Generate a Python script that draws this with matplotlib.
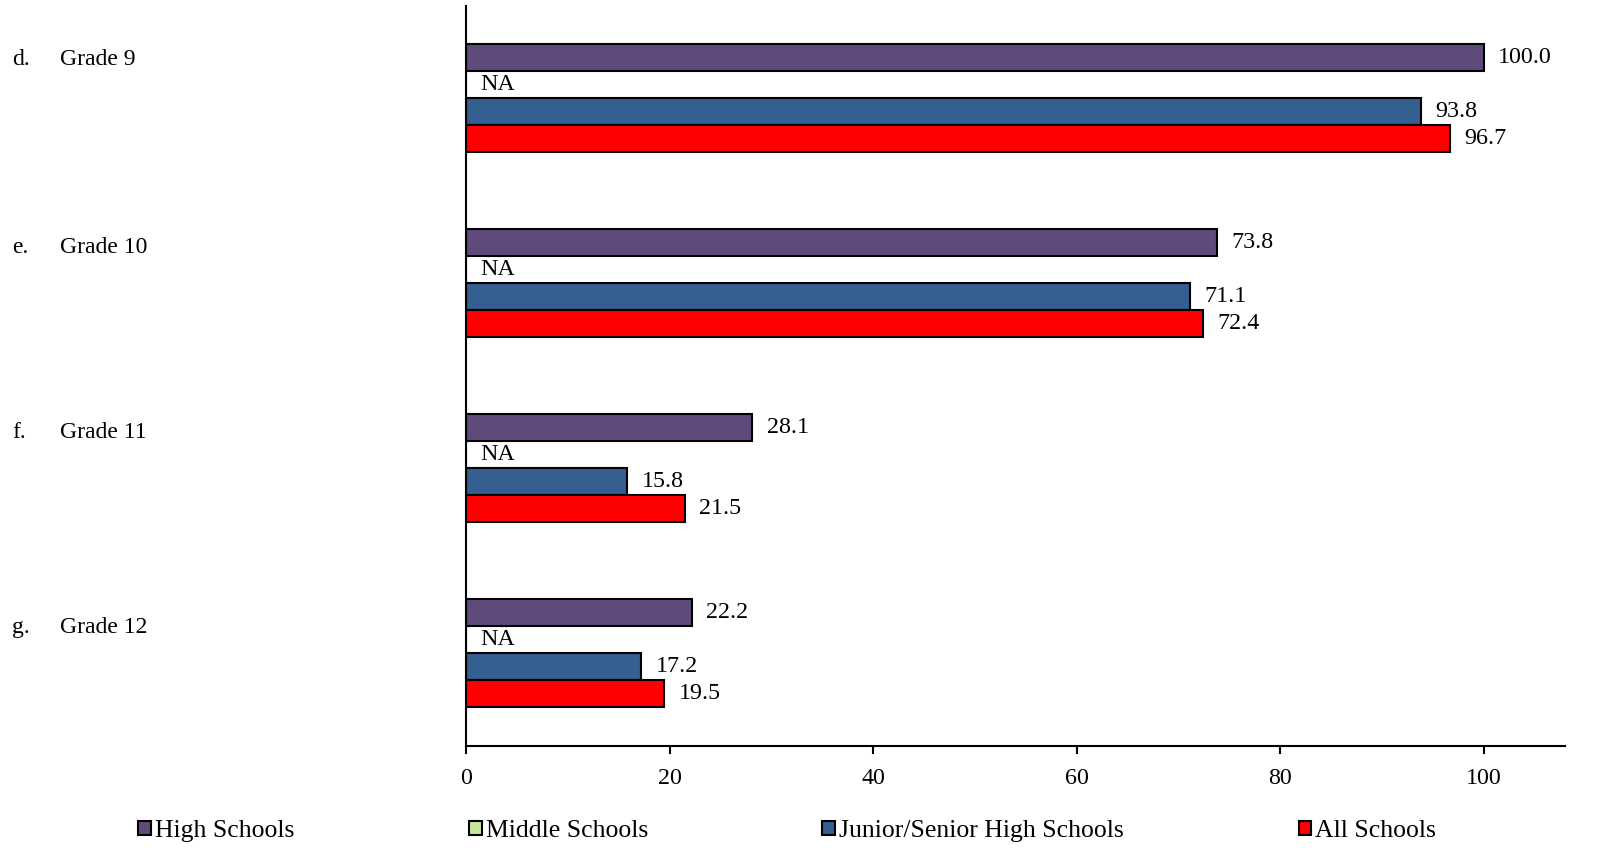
import numpy as np
import matplotlib
matplotlib.use("Agg")
import matplotlib.pyplot as plt
import matplotlib.transforms as mtransforms
from matplotlib.patches import Patch

plt.rcParams['font.family'] = ['Liberation Serif', 'DejaVu Serif']

letters = ["d.", "e.", "f.", "g."]
categories = ["Grade 9", "Grade 10", "Grade 11", "Grade 12"]
series_names = ["High Schools", "Middle Schools", "Junior/Senior High Schools", "All Schools"]
high = [100.0, 73.8, 28.1, 22.2]
middle = [np.nan, np.nan, np.nan, np.nan]
junior_senior = [93.8, 71.1, 15.8, 17.2]
all_schools = [96.7, 72.4, 21.5, 19.5]
xticks = [0, 20, 40, 60, 80, 100]

colors = ["#604A7B", "#C3E89C", "#355E91", "#FF0000"]
series = [high, middle, junior_senior, all_schools]

fig = plt.figure(figsize=(16.08, 8.66), dpi=100)
ax = fig.add_axes([466/1608, 1-745.5/866, (1565-466)/1608, (745.5-5.5)/866])

y = np.arange(len(categories))
h = 27/185
offsets = [-1.5*h, -0.5*h, 0.5*h, 1.5*h]
for vals, col, off in zip(series, colors, offsets):
    arr = np.array(vals, dtype=float)
    widths = np.nan_to_num(arr, nan=0.0)
    bars = ax.barh(y + off, widths, height=h, color=col, edgecolor='black', linewidth=1.5)
    labels = ["NA" if np.isnan(v) else f"{v:.1f}" for v in arr]
    ax.bar_label(bars, labels=labels, padding=10.5, fontsize=17.3)

ax.set_ylim(len(categories)-0.5, -0.5)
ax.set_xlim(0, 108)
ax.set_xticks(xticks)
ax.set_xticklabels([str(t) for t in xticks], fontsize=17.3)
ax.set_yticks([])
ax.tick_params(axis='x', direction='out', length=6, width=1.5, pad=10)
for s in ['top', 'right']:
    ax.spines[s].set_visible(False)
for s in ['left', 'bottom']:
    ax.spines[s].set_linewidth(1.5)

trans = mtransforms.blended_transform_factory(fig.transFigure, ax.transData)
label_off = [-0.21, -0.19, -0.19, -0.14]
for i, (lt, cat) in enumerate(zip(letters, categories)):
    ax.text(12/1608, i + label_off[i], lt, transform=trans, fontsize=17, va='center', ha='left')
    ax.text(60/1608, i + label_off[i], cat, transform=trans, fontsize=17, va='center', ha='left')

handles = [Patch(facecolor=c, edgecolor='black', linewidth=1.5) for c in colors]
fig.legend(handles, series_names, loc='center left', bbox_to_anchor=(138/1608, 1-831/866),
           ncol=4, frameon=False, fontsize=18.5, handlelength=0.5, handleheight=0.5,
           handletextpad=0.15, columnspacing=6.8, borderaxespad=0, borderpad=0)

fig.savefig("out.png", dpi=100)
